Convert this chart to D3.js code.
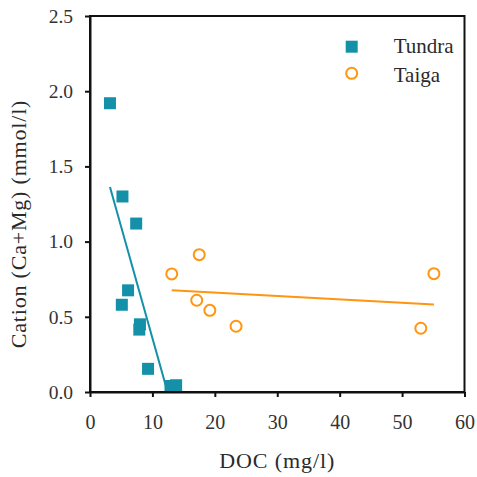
<!DOCTYPE html>
<html>
<head>
<meta charset="utf-8">
<script src="https://cdn.jsdelivr.net/npm/d3@7"></script>
<style>
  body { margin: 0; background: #fff; }
</style>
</head>
<body>
<div class="chart"></div>
<script>
// data
let tundraDoc = [3.2, 5.2, 7.4, 6.1, 5.1, 8.0, 7.9, 9.3, 12.9, 13.8];
let tundraCation = [1.92, 1.30, 1.12, 0.676, 0.58, 0.45, 0.415, 0.154, 0.04, 0.045];
let taigaDoc = [13.1, 17.5, 17.1, 19.2, 23.4, 53.0, 55.1];
let taigaCation = [0.785, 0.913, 0.61, 0.543, 0.437, 0.424, 0.787];
let xTicks = [0, 10, 20, 30, 40, 50, 60];
let yTicks = [0, 0.5, 1.0, 1.5, 2.0, 2.5];

let svgWidth = 477;
let svgHeight = 477;
let margin = { top: 16, right: 12.5, bottom: 85, left: 90 };
let chartWidth = svgWidth - margin.left - margin.right;
let chartHeight = svgHeight - margin.top - margin.bottom;

let teal = "#1491a8";
let orange = "#ff9510";
let serif = "'Liberation Serif'";

let svg = d3.select(".chart")
  .append("svg")
  .attr("width", svgWidth)
  .attr("height", svgHeight)
  .attr("font-family", serif);

let chart = svg.append("g")
  .attr("transform", `translate(${margin.left}, ${margin.top})`);

let x = d3.scaleLinear().domain([0, 60]).range([0, chartWidth]);
let y = d3.scaleLinear().domain([0, 2.5]).range([chartHeight, 0]);

svg.append("defs").append("clipPath").attr("id", "plotClip")
  .append("rect").attr("width", chartWidth).attr("height", chartHeight);

// linear fit, drawn over the data's x range and clipped to the plot
function fit(xs, ys) {
  let mx = d3.mean(xs), my = d3.mean(ys);
  let sxy = d3.sum(xs, (v, i) => (v - mx) * (ys[i] - my));
  let sxx = d3.sum(xs, v => (v - mx) * (v - mx));
  let b = sxy / sxx, a = my - b * mx;
  let x0 = d3.min(xs), x1 = d3.max(xs);
  return [[x0, a + b * x0], [x1, a + b * x1]];
}

let line = d3.line().x(d => x(d[0])).y(d => y(d[1]));
let lines = chart.append("g").attr("clip-path", "url(#plotClip)");
lines.append("path").attr("d", line(fit(tundraDoc, tundraCation)))
  .attr("stroke", teal).attr("stroke-width", 2).attr("fill", "none");
lines.append("path").attr("d", line(fit(taigaDoc, taigaCation)))
  .attr("stroke", orange).attr("stroke-width", 2).attr("fill", "none");

// tundra squares
chart.selectAll(".tundra")
  .data(tundraDoc.map((d, i) => [d, tundraCation[i]]))
  .enter().append("rect")
    .attr("class", "tundra")
    .attr("x", d => x(d[0]) - 6)
    .attr("y", d => y(d[1]) - 6)
    .attr("width", 12)
    .attr("height", 12)
    .attr("fill", teal);

// taiga circles
chart.selectAll(".taiga")
  .data(taigaDoc.map((d, i) => [d, taigaCation[i]]))
  .enter().append("circle")
    .attr("class", "taiga")
    .attr("cx", d => x(d[0]))
    .attr("cy", d => y(d[1]))
    .attr("r", 5.5)
    .attr("fill", "#fff")
    .attr("stroke", orange)
    .attr("stroke-width", 2);

// frame
chart.append("rect")
  .attr("width", chartWidth).attr("height", chartHeight)
  .attr("fill", "none").attr("stroke", "#111").attr("stroke-width", 2);

let bottomAxis = d3.axisBottom(x).tickValues(xTicks).tickSize(5).tickSizeOuter(0).tickPadding(18);
let leftAxis = d3.axisLeft(y).tickValues(yTicks).tickSize(5).tickSizeOuter(0).tickPadding(12)
  .tickFormat(d3.format(".1f"));

let xg = chart.append("g").attr("transform", `translate(0, ${chartHeight})`).call(bottomAxis)
  .attr("font-family", serif).attr("font-size", 20);
let yg = chart.append("g").call(leftAxis)
  .attr("font-family", serif).attr("font-size", 19.5);
[xg, yg].forEach(g => {
  g.select(".domain").attr("stroke", "#111").attr("stroke-width", 2);
  g.selectAll(".tick line").attr("stroke", "#111").attr("stroke-width", 2);
  g.selectAll("text").attr("fill", "#333");
});

chart.append("text")
  .attr("transform", `translate(${-64}, 208) rotate(-90)`)
  .attr("fill", "#2a2a2a")
  .attr("text-anchor", "middle")
  .attr("font-size", 22)
  .attr("letter-spacing", 0.8)
  .text("Cation (Ca+Mg) (mmol/l)");

chart.append("text")
  .attr("x", chartWidth / 2)
  .attr("y", chartHeight + 76)
  .attr("fill", "#2a2a2a")
  .attr("text-anchor", "middle")
  .attr("font-size", 22)
  .attr("letter-spacing", 0.9)
  .text("DOC (mg/l)");

// legend
let legend = chart.append("g").attr("transform", "translate(261.7, 30.7)")
  .attr("font-size", 21).attr("fill", "#2a2a2a");
legend.append("rect").attr("x", -6).attr("y", -6).attr("width", 12).attr("height", 12).attr("fill", teal);
legend.append("text").attr("x", 42).attr("y", 6.3).text("Tundra");
legend.append("circle").attr("cx", 0).attr("cy", 26.6).attr("r", 5.5)
  .attr("fill", "#fff").attr("stroke", orange).attr("stroke-width", 2);
legend.append("text").attr("x", 42).attr("y", 35).text("Taiga");
</script>
</body>
</html>
